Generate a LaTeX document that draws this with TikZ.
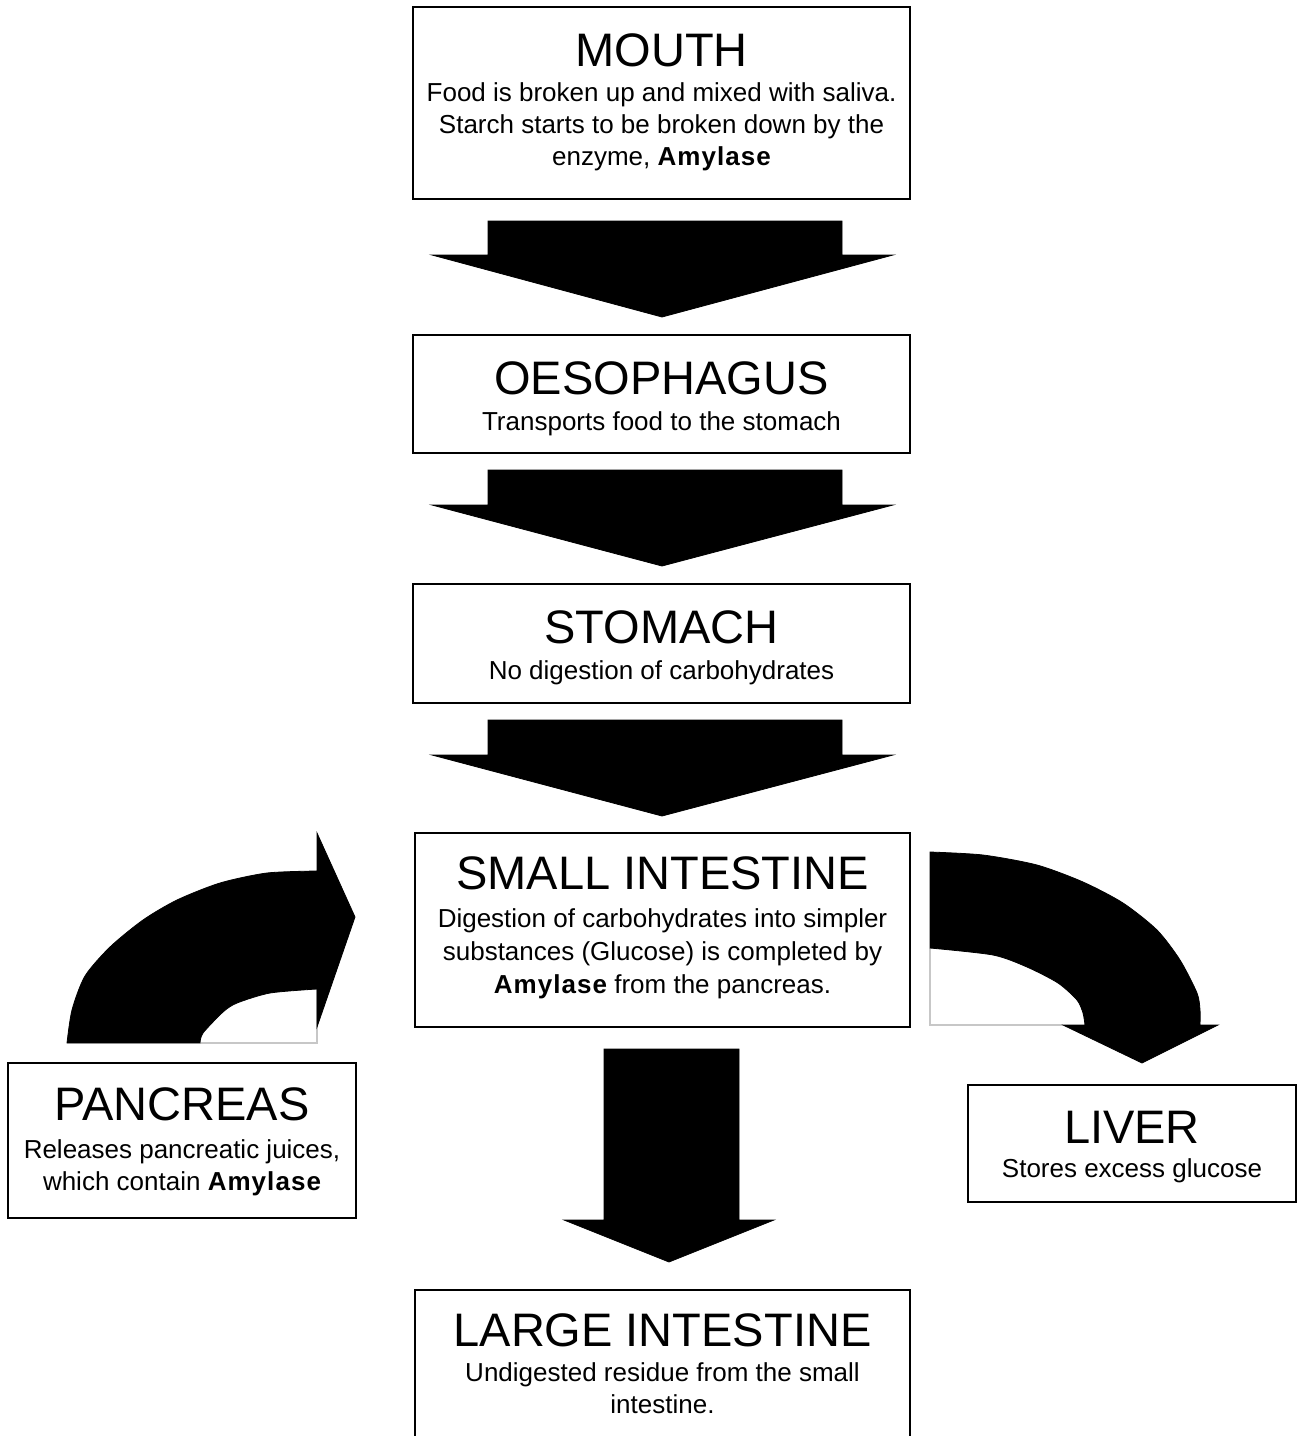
\documentclass[tikz,border=0pt]{standalone}
\usepackage{fontspec}
\setmainfont{Liberation Sans}
\newcommand\amy{{\bfseries\addfontfeatures{LetterSpace=4}Amylase}}
\begin{document}
\begin{tikzpicture}[x=0.5pt,y=-0.5pt,
  box/.style={draw=black, line width=1pt, inner sep=0pt},
  ttl/.style={anchor=base, inner sep=0pt, font=\fontsize{23.5}{28}\selectfont},
  txt/.style={anchor=base, inner sep=0pt, font=\fontsize{13}{16}\selectfont},
  blk/.style={fill=black, draw=black, line width=0.4pt},
  faint/.style={draw=black!22, line width=0.6pt}]
\useasboundingbox (0,0) rectangle (1297,1436);

% boxes
\node[box, minimum width=248.5pt, minimum height=96pt]   (mouth) at (661.5,103) {};
\node[box, minimum width=248.5pt, minimum height=59pt]   (oeso)  at (661.5,394) {};
\node[box, minimum width=248.5pt, minimum height=59.5pt] (stom)  at (661.5,643.5) {};
\node[box, minimum width=247.5pt, minimum height=97pt]   (si)    at (662.5,930) {};
\node[box, minimum width=247.5pt, minimum height=74pt]   (li)    at (662.5,1364) {};
\node[box, minimum width=174pt,   minimum height=77.5pt] (panc)  at (182,1140.5) {};
\node[box, minimum width=164pt,   minimum height=58.5pt] (liver) at (1132,1143.5) {};

% texts
\node[ttl] (mouthT) at (661.5,66) {MOUTH};
\node[txt] (mouth1) at (661.5,101) {Food is broken up and mixed with saliva.};
\node[txt] (mouth2) at (661.5,133) {Starch starts to be broken down by the};
\node[txt] (mouth3) at (661.5,165) {enzyme, \amy};

\node[ttl] (oesoT) at (661.5,394) {OESOPHAGUS};
\node[txt] (oeso1) at (661.5,430) {Transports food to the stomach};

\node[ttl] (stomT) at (661.5,643) {STOMACH};
\node[txt] (stom1) at (661.5,679) {No digestion of carbohydrates};

\node[ttl] (siT) at (662.5,889) {SMALL INTESTINE};
\node[txt] (si1) at (662.5,927) {Digestion of carbohydrates into simpler};
\node[txt] (si2) at (662.5,960) {substances (Glucose) is completed by};
\node[txt] (si3) at (662.5,993) {\amy{} from the pancreas.};

\node[ttl] (pancT) at (182,1120) {PANCREAS};
\node[txt] (panc1) at (182,1158) {Releases pancreatic juices,};
\node[txt] (panc2) at (182,1190) {which contain \amy};

\node[ttl] (liverT) at (1132,1143) {LIVER};
\node[txt] (liver1) at (1132,1177) {Stores excess glucose};

\node[ttl] (liT) at (662.5,1346) {LARGE INTESTINE};
\node[txt] (li1) at (662.5,1381) {Undigested residue from the small};
\node[txt] (li2) at (662.5,1413) {intestine.};

% straight block arrows
\draw[blk] (488,221) -- (842,221) -- (842,255) -- (893,255) -- (662,317) -- (432,255) -- (488,255) -- cycle;
\draw[blk] (488,470) -- (842,470) -- (842,505) -- (893,505) -- (662,566) -- (432,505) -- (488,505) -- cycle;
\draw[blk] (488,720) -- (842,720) -- (842,755) -- (893,755) -- (662,816) -- (432,755) -- (488,755) -- cycle;
\draw[blk] (604,1049) -- (739,1049) -- (739,1220) -- (774,1220) -- (669,1262) -- (564,1220) -- (604,1220) -- cycle;

% curved arrow: pancreas -> small intestine
\draw[faint] (200,1043) -- (317,1043) -- (317,989);
\draw[blk] plot[smooth, tension=0.45] coordinates {(67,1043) (72,1010) (85,976) (110,947) (143,920) (177,900) (220,883) (267,873) (317,871)}
  -- (317,833) -- (355,917) -- (317,1027) -- (317,989)
  -- plot[smooth, tension=0.45] coordinates {(317,989) (270,993) (237,1003) (223,1012) (203,1033) (200,1043)} -- cycle;

% curved arrow: small intestine -> liver
\draw[faint] (930,948) -- (930,1025) -- (1063,1025);
\draw[blk] plot[smooth, tension=0.45] coordinates {(930,852) (983,855) (1037,865) (1083,882) (1123,903) (1157,930) (1180,960) (1197,993) (1200,1010) (1200,1025)}
  -- (1218,1025) -- (1142,1063) -- (1063,1025) -- (1085,1025)
  -- plot[smooth, tension=0.45] coordinates {(1085,1025) (1083,1013) (1077,1000) (1058,983) (1027,967) (993,955) (930,948)} -- cycle;
\end{tikzpicture}
\end{document}
